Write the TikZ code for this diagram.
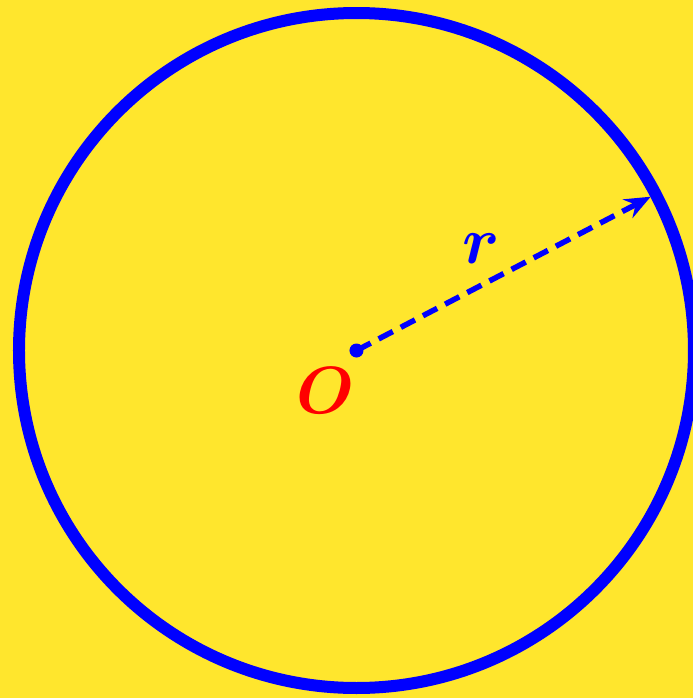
\documentclass[tikz,border=0pt]{standalone}
\usepackage{amsmath,amssymb,bm}
\usetikzlibrary{arrows.meta}
\definecolor{bgyellow}{RGB}{255,230,45}

\begin{document}
\begin{tikzpicture}
    % picture frame, circle is cut on the right side
    \useasboundingbox (-3.565,-3.475) rectangle (3.365,3.505);
    \clip (-3.565,-3.475) rectangle (3.365,3.505);
    \fill[bgyellow] (-3.565,-3.475) rectangle (3.365,3.505);

    \coordinate (O) at (0,0);
    \coordinate (P) at (27.6:3.32); % end of the radius

    \draw[blue, line width=0.055cm, dash pattern=on 0.16cm off 0.09cm,
          -{Stealth[length=2.6mm,width=2.1mm,inset=0.9mm]}] (O) -- (P);
    \draw[blue, line width=0.12cm] (O) circle (3.375);
    \fill[blue] (O) circle (0.07);

    \node[red, scale=1.9] (labO) at (-0.31,-0.40) {$\bm{O}$};
    \node[blue, scale=1.9] (labr) at (1.25,1.02) {$\bm{r}$};
\end{tikzpicture}
\end{document}
